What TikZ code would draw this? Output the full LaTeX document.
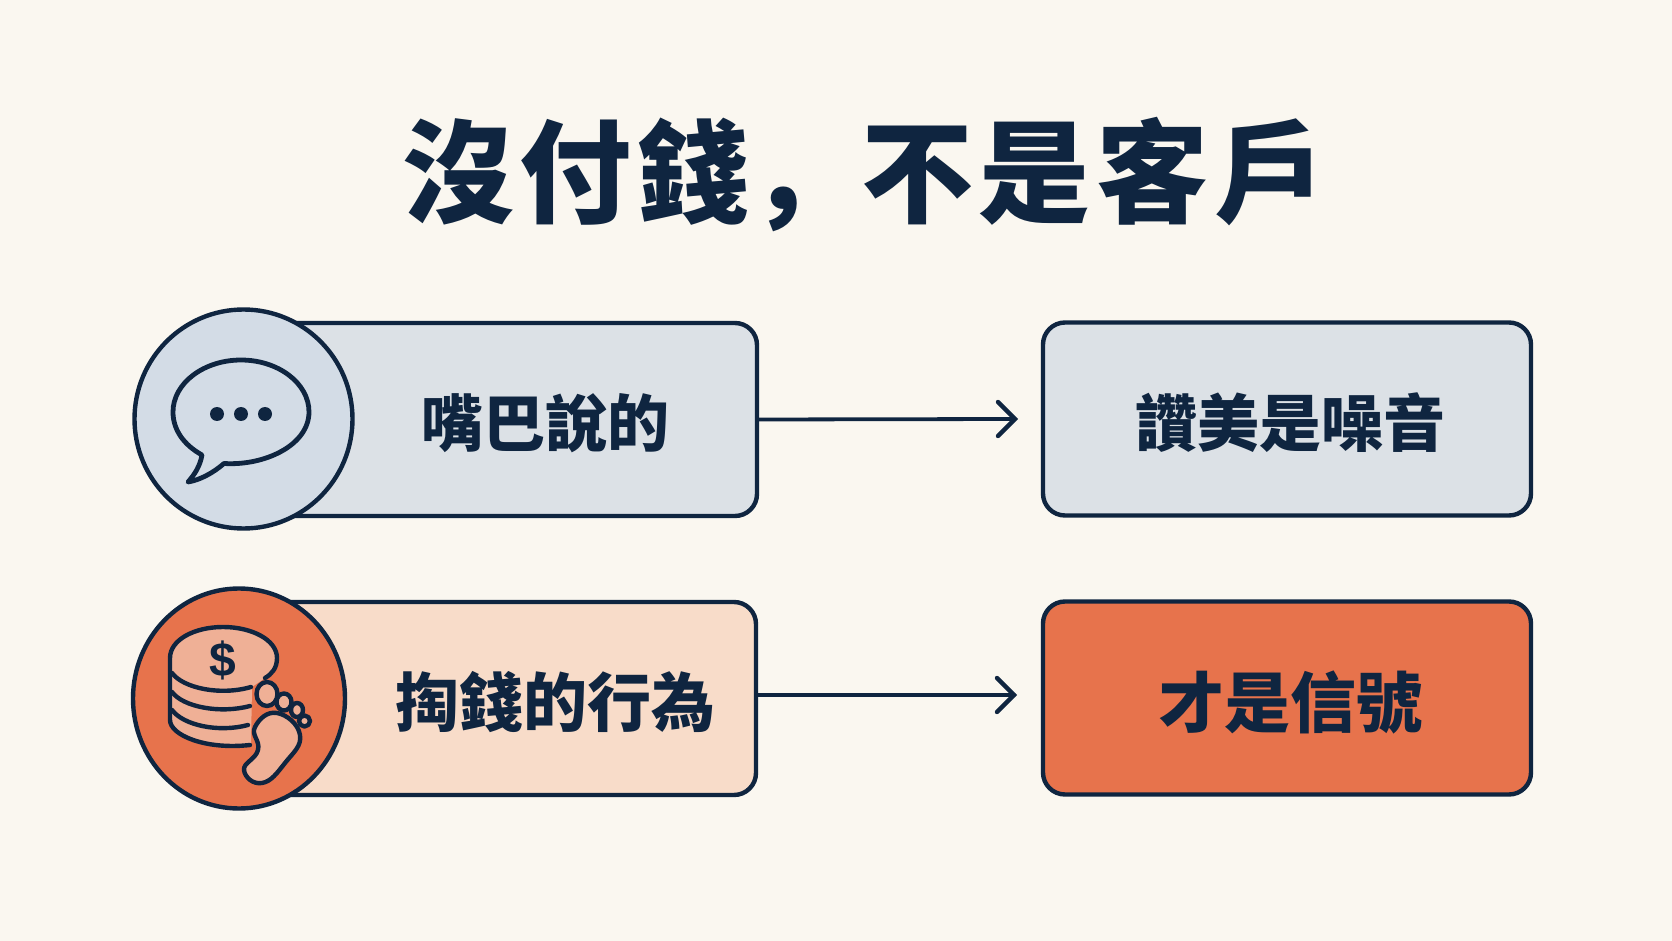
\documentclass[tikz,border=0pt]{standalone}
\usepackage{fontspec}
\usetikzlibrary{shapes.geometric}
\newfontfamily\cjk{Noto Sans CJK TC}
\newfontfamily\cjktitle[LetterSpace=5]{Noto Sans CJK TC}
\newfontfamily\cjkcomma[LetterSpace=5]{Noto Sans CJK SC}
\newfontfamily\coinfont{Liberation Sans}
\definecolor{paper}{HTML}{FAF7F0}
\definecolor{navy}{HTML}{0F2540}
\definecolor{greybox}{HTML}{DCE1E6}
\definecolor{greyring}{HTML}{D3DCE6}
\definecolor{peach}{HTML}{F8DCC9}
\definecolor{orange}{HTML}{E7734C}
\definecolor{coin}{HTML}{EFB096}
\tikzset{
	box/.style={draw=navy, line width=2.2pt, rounded corners=11pt, inner sep=0pt, outer sep=0pt, minimum height=96.5pt},
	ring/.style={ellipse, draw=navy, line width=2.2pt, inner sep=0pt, outer sep=0pt},
	icon/.style={draw=navy, line width=2.2pt, line cap=round, line join=round},
	link/.style={draw=navy, line width=1.9pt, line cap=round},
	tip/.style={draw=navy, line width=2.2pt, line cap=round, line join=miter},
	label/.style={text=navy, font=\cjk\bfseries\fontsize{31}{34}\selectfont},
}
\begin{document}
\begin{tikzpicture}[x=.5pt, y=-.5pt]
	\fill [paper] (0,0) rectangle (1672,941);
	\node [text=navy, font=\cjktitle\bfseries\fontsize{56}{60}\selectfont] (title) at (864,175) {沒付錢{\cjkcomma\bfseries ^^^^ff0c}不是客戶};
	% upper row
	\node [box, fill=greybox, minimum width=248pt] (saybox) at (509,419.5) {};
	\node [box, fill=greybox, minimum width=244pt] (praisebox) at (1287,419) {};
	\node [ring, fill=greyring, minimum width=109pt, minimum height=109.5pt] (sayring) at (243.5,419) {};
	\node [label] (saytext) at (545,423) {嘴巴說的};
	\node [label] (praisetext) at (1290,423) {讚美是噪音};
	\coordinate (saytip) at (1015,419);
	\draw [link] (saybox.east) -- (saytip);
	\draw [tip] (998,402) -- (saytip) -- (998,436);
	% lower row
	\node [box, fill=peach, minimum width=248pt] (paybox) at (508,698.5) {};
	\node [box, fill=orange, minimum width=244pt] (signalbox) at (1287,698) {};
	\node [ring, fill=orange, minimum width=106pt, minimum height=110pt] (payring) at (239,698.5) {};
	\node [label, font=\cjk\bfseries\fontsize{32}{34}\selectfont] (paytext) at (555,702) {掏錢的行為};
	\node [label, font=\cjk\bfseries\fontsize{33}{34}\selectfont] (signaltext) at (1290,702) {才是信號};
	\coordinate (paytip) at (1014,695);
	\draw [link] (paybox.east |- paytip) -- (paytip);
	\draw [tip] (997,678) -- (paytip) -- (997,712);
	% speech bubble
	\draw [icon, line width=2.4pt] (224,463.5) .. controls (265,466) and (309,445) .. (309,412)
		.. controls (309,383) and (278,360) .. (241,360)
		.. controls (204,360) and (173,383) .. (173,412)
		.. controls (173,430) and (184,445) .. (202,455)
		.. controls (200,466) and (195,474) .. (188,482)
		.. controls (200,480) and (213,473) .. (224,463.5) -- cycle;
	\foreach \x in {217, 241, 265} {
		\fill [navy] (\x,414) circle [radius=7];
	}
	% coins
	\fill [coin] (170,658) .. controls (170,640) and (194,627) .. (223,627)
		.. controls (252,627) and (277,640) .. (277,658)
		.. controls (277,668) and (272,674) .. (265,678) -- (252,687) -- (251,745)
		.. controls (205,750) and (170,735) .. (170,720) -- cycle;
	\draw [icon] (265,678) .. controls (272,674) and (277,668) .. (277,658)
		.. controls (277,640) and (252,627) .. (223,627)
		.. controls (194,627) and (170,640) .. (170,658) -- (170,720)
		.. controls (170,735) and (205,750) .. (250,745);
	\draw [icon] (172,673) .. controls (183,688) and (220,696) .. (251,687);
	\draw [icon] (172,692) .. controls (183,707) and (220,714) .. (250,706);
	\draw [icon] (172,710) .. controls (183,725) and (218,733) .. (248,725);
	\node [text=navy, font=\coinfont\bfseries\fontsize{24}{26}\selectfont] (dollar) at (223,660) {\$};
	% foot
	\draw [icon, fill=coin] plot [smooth cycle, tension=.8] coordinates {(277,713) (300,735) (285,763) (262,783) (244,770) (258,750) (255,727)};
	\draw [icon, fill=coin] (267,694) ellipse [x radius=10.5, y radius=12];
	\draw [icon, fill=coin] (284,702) ellipse [x radius=7.5, y radius=8.5];
	\draw [icon, fill=coin] (297,710) ellipse [x radius=6, y radius=7];
	\draw [icon, fill=coin] (304.5,721) circle [radius=5.5];
\end{tikzpicture}
\end{document}
